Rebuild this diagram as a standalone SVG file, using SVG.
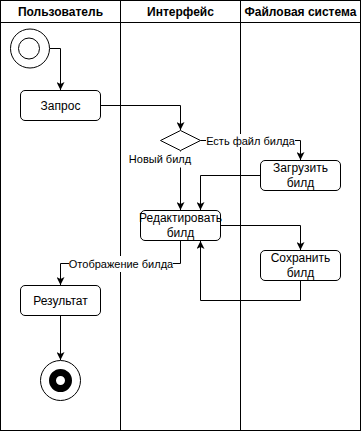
<svg xmlns="http://www.w3.org/2000/svg" width="362" height="432" viewBox="0 0 362 432">
  <style>
    .lane { fill: none; stroke: #000; stroke-width: 1; }
    .hdr { font-family: "Liberation Sans", Arial, sans-serif; font-size: 12px; font-weight: bold; text-anchor: middle; fill: #000; }
    .box { fill: #fff; stroke: #000; stroke-width: 1; }
    .txt { font-family: "Liberation Sans", Arial, sans-serif; font-size: 12px; text-anchor: middle; fill: #000; }
    .lbl { font-family: "Liberation Sans", Arial, sans-serif; font-size: 11px; text-anchor: middle; fill: #000; }
    .edge { fill: none; stroke: #000; stroke-width: 1; marker-end: url(#arrow); }
    .lblbg { fill: #fff; stroke: none; }
  </style>
  <defs>
    <marker id="arrow" viewBox="0 0 10 10" refX="10" refY="5" markerWidth="8" markerHeight="8" markerUnits="userSpaceOnUse" orient="auto">
      <path d="M0,0 L10,5 L0,10 L2.5,5 Z" fill="#000"/>
    </marker>
  </defs>

  <rect width="362" height="432" fill="#fff"/>

  <!-- swimlanes -->
  <g id="lanes">
    <rect class="lane" x="0.5" y="0.5" width="360" height="430"/>
    <line class="lane" x1="0.5" y1="22.5" x2="360.5" y2="22.5"/>
    <line class="lane" x1="120.5" y1="0.5" x2="120.5" y2="430.5"/>
    <line class="lane" x1="240.5" y1="0.5" x2="240.5" y2="430.5"/>
    <text class="hdr" x="60.5" y="16">Пользователь</text>
    <text class="hdr" x="180.5" y="16">Интерфейс</text>
    <text class="hdr" x="300.5" y="16">Файловая система</text>
  </g>

  <!-- connectors -->
  <g id="connectors">
    <path class="edge" d="M50,48.5 H60.5 V90"/>
    <path class="edge" d="M100.5,105.5 H180.5 V130"/>
    <path class="edge" d="M200.5,140.5 H300.5 V160"/>
    <path class="edge" d="M180.5,150.5 V210"/>
    <path class="edge" d="M260.5,175.5 H200.5 V210"/>
    <path class="edge" d="M220.5,225.5 H300.5 V250"/>
    <path class="edge" d="M300.5,280.5 V300.5 H200.5 V241"/>
    <path class="edge" d="M180.5,240.5 V263.5 H60.5 V285"/>
    <path class="edge" d="M60.5,315.5 V360"/>
    <!-- edge labels -->
    <rect class="lblbg" x="206" y="134" width="89" height="13"/>
    <text class="lbl" x="250.5" y="144.5">Есть файл билда</text>
    <rect class="lblbg" x="129" y="151.5" width="62" height="16"/>
    <text class="lbl" x="160" y="163">Новый билд</text>
    <rect class="lblbg" x="69" y="256" width="104" height="16"/>
    <text class="lbl" x="121" y="268">Отображение билда</text>
  </g>

  <!-- nodes -->
  <g id="start">
    <circle cx="30" cy="48.5" r="19.5" fill="#fff" stroke="#000"/>
    <circle cx="29" cy="48.5" r="10.5" fill="#fff" stroke="#000"/>
  </g>
  <g id="request">
    <rect class="box" x="20.5" y="90.5" width="80" height="30" rx="4.5"/>
    <text class="txt" x="60.5" y="110">Запрос</text>
  </g>
  <g id="decision">
    <polygon points="180.5,130.5 200.5,140.5 180.5,150.5 160.5,140.5" fill="#fff" stroke="#000"/>
  </g>
  <g id="load">
    <rect class="box" x="260.5" y="160.5" width="80" height="30" rx="4.5"/>
    <text class="txt" x="300.5" y="172">Загрузить</text>
    <text class="txt" x="300.5" y="187">билд</text>
  </g>
  <g id="edit">
    <rect class="box" x="140.5" y="210.5" width="80" height="30" rx="4.5"/>
    <text class="txt" x="180.5" y="222">Редактировать</text>
    <text class="txt" x="180.5" y="237">билд</text>
  </g>
  <g id="save">
    <rect class="box" x="260.5" y="250.5" width="80" height="30" rx="4.5"/>
    <text class="txt" x="300.5" y="262">Сохранить</text>
    <text class="txt" x="300.5" y="277">билд</text>
  </g>
  <g id="result">
    <rect class="box" x="20.5" y="285.5" width="80" height="30" rx="4.5"/>
    <text class="txt" x="60.5" y="305">Результат</text>
  </g>
  <g id="end">
    <circle cx="60.5" cy="380.5" r="20" fill="#fff" stroke="#000"/>
    <circle cx="60.5" cy="380.5" r="8" fill="none" stroke="#000" stroke-width="7"/>
  </g>
</svg>
